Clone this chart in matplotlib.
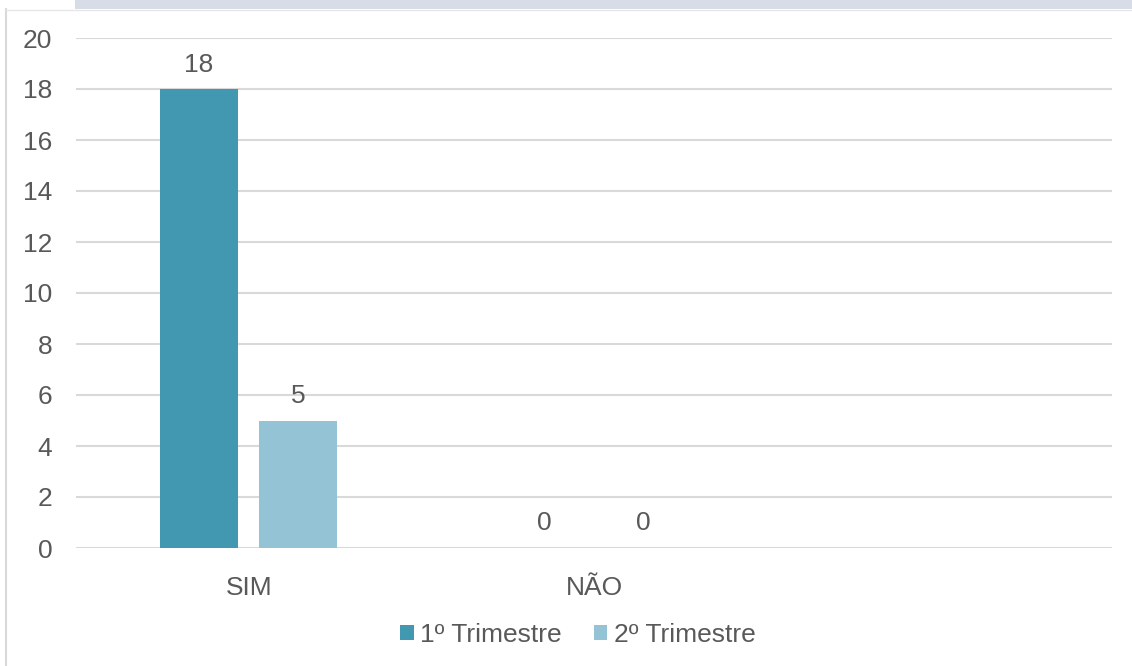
import matplotlib
matplotlib.use("Agg")
import matplotlib.pyplot as plt
from matplotlib.patches import Patch, Rectangle
from matplotlib.lines import Line2D
import numpy as np

categories = ["SIM", "NÃO", ""]
series_names = ["1º Trimestre", "2º Trimestre"]
tri1 = [18, 0, None]
tri2 = [5, 0, None]
yticks = [0, 2, 4, 6, 8, 10, 12, 14, 16, 18, 20]

c1 = "#4298B0"
c2 = "#93C3D5"
txt = "#595959"
grid = "#D9D9D9"
FS = 19

plt.rcParams['font.family'] = ['Liberation Sans', 'DejaVu Sans']

W, H = 1132, 666
fig = plt.figure(figsize=(W / 100, H / 100), dpi=100, facecolor="white")

# background decoration (document page edge)
fig.patches.append(Rectangle((75 / W, 1 - 9 / H), 1, 9 / H, transform=fig.transFigure,
                             facecolor="#D8DCE6", edgecolor="none", zorder=0))
fig.lines.append(Line2D([6 / W, 6 / W], [0, 1 - 9 / H], transform=fig.transFigure,
                        color="#D9D9D9", lw=1.5, zorder=0))
fig.lines.append(Line2D([6 / W, 1], [1 - 9.5 / H, 1 - 9.5 / H], transform=fig.transFigure,
                        color="#E6E6E6", lw=1.0, zorder=0))

ax = fig.add_axes([76 / W, (H - 548) / H, (1112 - 76) / W, (548 - 38) / H])
ax.set_facecolor("none")

x = np.arange(len(categories))
bw = 0.226
off = 0.1435

v1 = np.array([np.nan if v is None else v for v in tri1], dtype=float)
v2 = np.array([np.nan if v is None else v for v in tri2], dtype=float)

b1 = ax.bar(x - off, v1, bw, color=c1, zorder=3, label=series_names[0])
b2 = ax.bar(x + off, v2, bw, color=c2, zorder=3, label=series_names[1])

for xs, vals in ((x - off, tri1), (x + off, tri2)):
    for xi, v in zip(xs, vals):
        if v is None:
            continue
        ax.annotate(f"{v}", (xi, v), xytext=(0, 9), textcoords="offset points",
                    ha="center", va="bottom", fontsize=FS, color=txt)

ax.set_xlim(-0.5, 2.5)
ax.set_ylim(0, 20)
ax.set_yticks(yticks)
ax.set_xticks(x)
ax.set_xticklabels(categories)
ax.tick_params(axis="both", length=0, labelsize=FS, labelcolor=txt)
ax.tick_params(axis="y", pad=17)
ax.tick_params(axis="x", pad=20)
ax.grid(axis="y", color=grid, lw=1.5, zorder=0)
for s in ax.spines.values():
    s.set_visible(False)

handles = [Patch(facecolor=c1, edgecolor="none"), Patch(facecolor=c2, edgecolor="none")]
fig.legend(handles, series_names, loc="center", bbox_to_anchor=(578 / W, 1 - 635 / H),
           ncol=2, frameon=False, fontsize=FS, labelcolor=txt,
           handlelength=0.52, handleheight=0.52, handletextpad=0.25, columnspacing=1.2)

fig.savefig("out.png", dpi=100, facecolor="white")
